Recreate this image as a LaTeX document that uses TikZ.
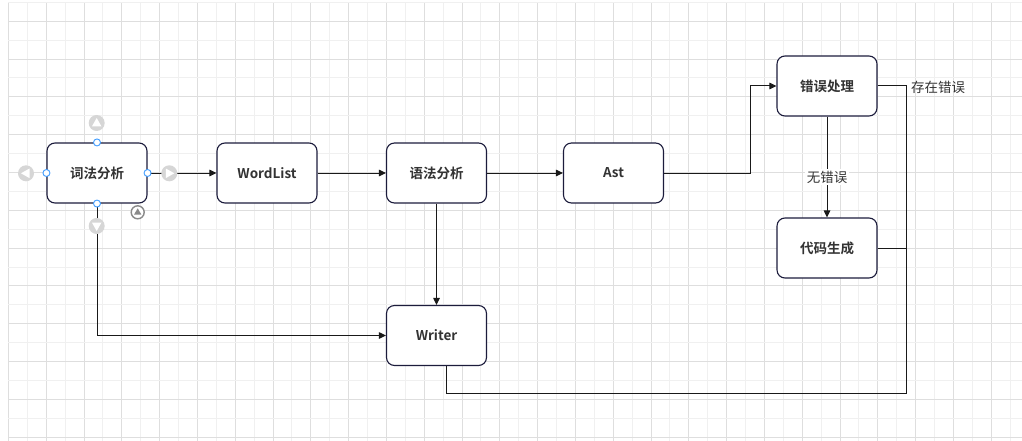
\documentclass[tikz,border=0pt]{standalone}
\usepackage{fontspec}
\setmainfont{Noto Sans CJK SC}[BoldFont={Noto Sans CJK SC Bold}]
\usetikzlibrary{arrows.meta}
\definecolor{gridminor}{HTML}{F0F0F0}
\definecolor{gridmajor}{HTML}{DEDEDE}
\definecolor{boxline}{HTML}{1C1C3C}
\definecolor{txt}{HTML}{333333}
\definecolor{handleblue}{HTML}{3D9BFF}
\definecolor{handlegray}{HTML}{D6D6D6}
\definecolor{ringgray}{HTML}{8A8A8A}
\begin{document}
\begin{tikzpicture}[x=1pt,y=-1pt,
  stepbox/.style={draw=boxline,fill=white,rounded corners=8pt,line width=1.1pt,
    minimum width=100pt,minimum height=60pt,inner sep=0pt,
    font=\fontsize{13.5}{15}\selectfont\bfseries,text=txt},
  arr/.style={-{Triangle[length=7pt,width=6.5pt]},line width=1pt,draw=black!90},
  conn/.style={line width=1pt,draw=black!90},
  lbl/.style={font=\fontsize{13.5}{15}\selectfont,text=txt,fill=white,inner sep=2pt},
  bluehandle/.style={circle,draw=handleblue,fill=white,line width=0.9pt,minimum size=7pt,inner sep=0pt},
  grayhandle/.style={circle,fill=handlegray,minimum size=16pt,inner sep=0pt}]
\useasboundingbox (0,0) rectangle (1022,441);
\fill[white] (0,0) rectangle (1022,441);
% grid
\foreach \k in {0,...,53}{
  \pgfmathsetmacro{\xx}{8.3+18.9*\k}
  \ifodd\k
    \draw[gridminor,line width=0.8pt] (\xx,2.3) -- (\xx,441);
  \else
    \draw[gridmajor,line width=0.8pt] (\xx,2.3) -- (\xx,441);
  \fi
}
\foreach \k in {0,...,23}{
  \pgfmathsetmacro{\yy}{2.3+18.9*\k}
  \ifodd\k
    \draw[gridmajor,line width=0.8pt] (8.3,\yy) -- (1022,\yy);
  \else
    \draw[gridminor,line width=0.8pt] (8.3,\yy) -- (1022,\yy);
  \fi
}
% nodes
\node[stepbox] (lex) at (97,173) {词法分析};
\node[stepbox] (wl) at (267,173) {WordList};
\node[stepbox] (syn) at (436.5,173) {语法分析};
\node[stepbox] (ast) at (613.5,173) {Ast};
\node[stepbox] (err) at (827,86) {错误处理};
\node[stepbox] (gen) at (827,248) {代码生成};
\node[stepbox] (wr) at (436.5,335.5) {Writer};
\coordinate (jx) at (750,0);
\coordinate (bx) at (906,393);
\coordinate (wrb) at (446,365.5);
% connectors
\draw[arr] (lex) -- (wl);
\draw[arr] (wl) -- (syn);
\draw[arr] (syn) -- (ast);
\draw[arr] (ast.east) -| (jx |- err) -- (err.west);
\draw[arr] (err) -- node[lbl,pos=0.6] (l1) {无错误} (gen);
\draw[conn] (err.east) -| (bx) -| (wrb);
\draw[conn] (gen.east) -- (gen.east -| bx);
\node[lbl,fill=none,anchor=west] (l2) at (909,87) {存在错误};
\draw[arr] (syn) -- (wr);
\draw[arr] (lex.south) |- (wr.west);
% selection handles (editor UI)
\node[grayhandle] (hu) at (96.7,123) {};
\node[grayhandle] (hl) at (26,173.3) {};
\node[grayhandle] (hr) at (169.3,173.3) {};
\node[grayhandle] (hd) at (96.7,226) {};
\fill[white] (96.7,118) -- (101.5,126.5) -- (91.9,126.5) -- cycle;
\fill[white] (21,173.3) -- (29.5,168.5) -- (29.5,178.1) -- cycle;
\fill[white] (174.3,173.3) -- (165.8,168.5) -- (165.8,178.1) -- cycle;
\fill[white] (96.7,231) -- (101.5,222.5) -- (91.9,222.5) -- cycle;
\node[circle,draw=ringgray,line width=1.4pt,fill=white,minimum size=13pt,inner sep=0pt] (hs) at (137.7,212.3) {};
\fill[ringgray] (137.7,208.3) -- (141.4,214.6) -- (134,214.6) -- cycle;
\node[bluehandle] (b1) at (lex.north) {};
\node[bluehandle] (b2) at (lex.south) {};
\node[bluehandle] (b3) at (lex.west) {};
\node[bluehandle] (b4) at (lex.east) {};
\end{tikzpicture}
\end{document}
